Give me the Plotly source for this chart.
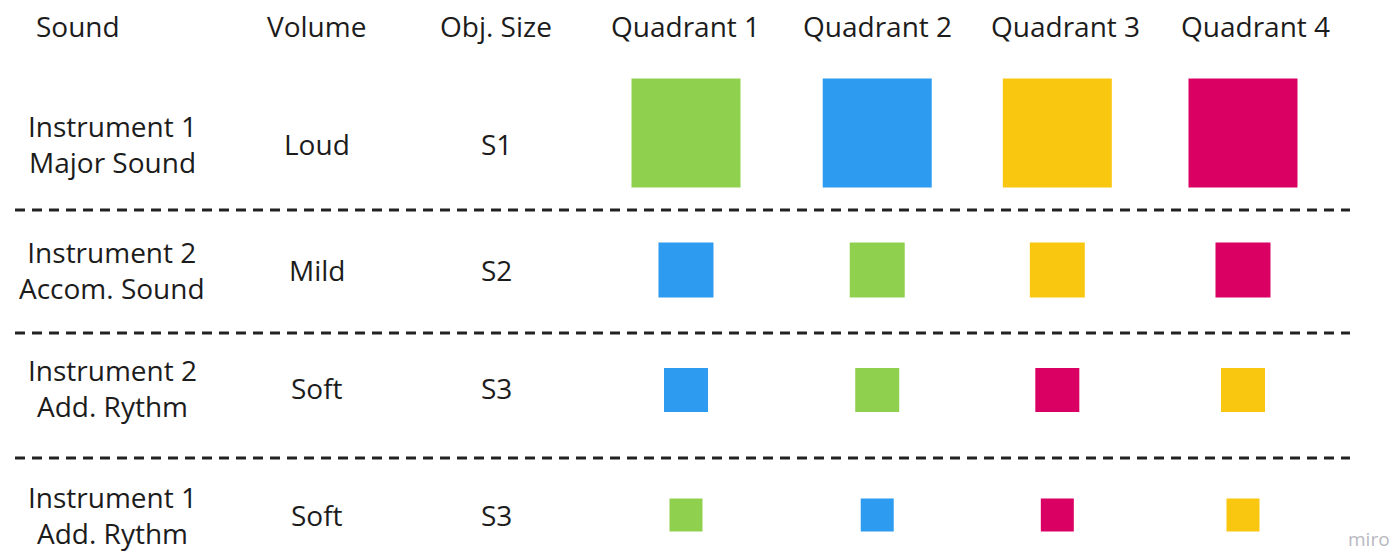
import plotly.graph_objects as go

# table content
columns = ["Sound", "Volume", "Obj. Size", "Quadrant 1", "Quadrant 2", "Quadrant 3", "Quadrant 4"]
sounds = ["Instrument 1<br>Major Sound", "Instrument 2<br>Accom. Sound",
          "Instrument 2<br>Add. Rythm", "Instrument 1<br>Add. Rythm"]
volumes = ["Loud", "Mild", "Soft", "Soft"]
obj_sizes = ["S1", "S2", "S3", "S3"]
square_px = [109, 55, 44, 33]  # object size per row
quadrant_colors = [
    ["green", "blue", "yellow", "red"],
    ["blue", "green", "yellow", "red"],
    ["blue", "green", "red", "yellow"],
    ["green", "blue", "red", "yellow"],
]
palette = {"green": "#8fd14f", "blue": "#2d9bf0", "yellow": "#fac710", "red": "#da0063"}

# layout helpers (pixel rows, measured from the top of the page)
row_y = [133, 270, 390, 515]
text_y = [144, 270, 388, 515]
header_y = 26
divider_y = [210, 333, 458]
quad_nudge = [0, 0.03, 0, 0]  # hand-placed columns are not evenly spaced
font = "Open Sans"
ink = "#1c1c1c"
W, H = 1391, 545  # page body keeps an 8px margin

fig = go.Figure()

for r, row in enumerate(quadrant_colors):
    fig.add_trace(go.Scatter(
        x=[3 + q + quad_nudge[q] for q in range(len(row))],
        y=[row_y[r]] * len(row),
        mode="markers",
        marker=dict(symbol="square", size=square_px[r],
                    color=[palette[c] for c in row], line_width=0),
        hoverinfo="skip",
        showlegend=False,
    ))

# headers
header_shift = [-51, 2, -4, 0, 0, 8, 13]
for i, c in enumerate(columns):
    nudge = quad_nudge[i - 3] if i >= 3 else 0
    fig.add_annotation(x=i + nudge, y=header_y, text=c, showarrow=False, xshift=header_shift[i],
                       borderpad=0, font=dict(family=font, size=28, color=ink))

# row labels
for r in range(len(sounds)):
    fig.add_annotation(x=0, y=text_y[r], text=sounds[r], showarrow=False, xshift=-17,
                       borderpad=0, font=dict(family=font, size=28, color=ink))
    fig.add_annotation(x=1, y=text_y[r], text=volumes[r], showarrow=False, xshift=2,
                       borderpad=0, font=dict(family=font, size=28, color=ink))
    fig.add_annotation(x=2, y=text_y[r], text=obj_sizes[r], showarrow=False, xshift=-4,
                       borderpad=0, font=dict(family=font, size=28, color=ink))

for y in divider_y:
    fig.add_shape(type="line", xref="paper", x0=7 / W, x1=1342 / W, y0=y, y1=y,
                  line=dict(color="#222222", width=3, dash="10px,7px"))

fig.add_annotation(xref="paper", yref="paper", x=1383 / W, y=0.0, xanchor="right",
                   yanchor="bottom", text="miro", showarrow=False, borderpad=0,
                   font=dict(family=font, size=19, color="#b8b8c0"))

fig.update_layout(
    width=W, height=H,
    margin=dict(l=0, r=0, t=0, b=0),
    paper_bgcolor="white", plot_bgcolor="white",
    xaxis=dict(range=[-0.6517, 6.8403], visible=False, fixedrange=True),
    yaxis=dict(range=[553, 8], visible=False, fixedrange=True),
    showlegend=False,
)

fig.write_html("out.html")
